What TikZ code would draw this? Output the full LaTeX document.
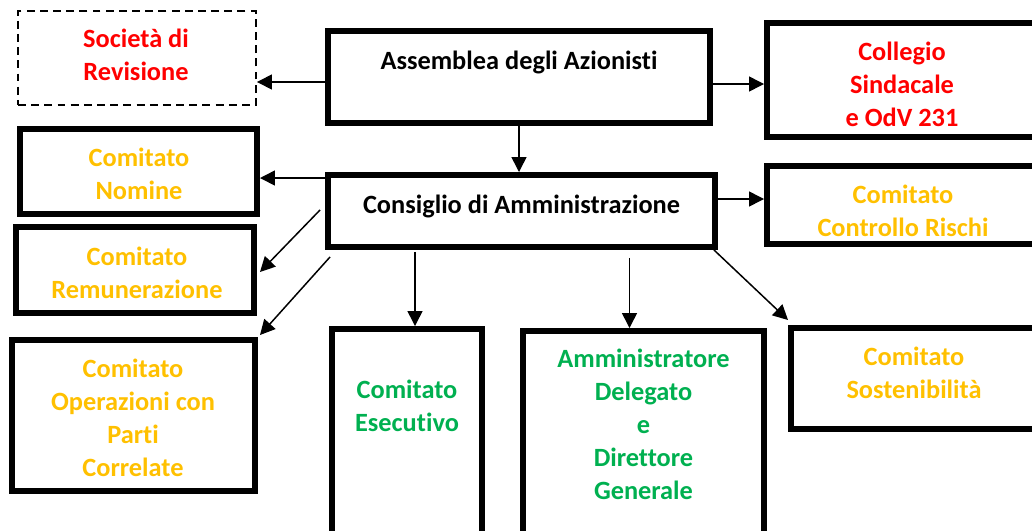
\documentclass[tikz,border=0pt]{standalone}
\usepackage{fontspec}
\setmainfont{Carlito}[Ligatures=NoCommon]
\usetikzlibrary{calc,arrows.meta}
\definecolor{rosso}{RGB}{255,0,0}
\definecolor{oro}{RGB}{255,192,0}
\definecolor{verde}{RGB}{0,176,80}

\begin{document}
\begin{tikzpicture}[x=0.02cm,y=-0.02cm]
	\tikzset{box/.style 2 args={draw=black, line width=3.4pt, minimum width=#1*0.02cm, minimum height=#2*0.02cm, inner sep=0pt}};
	\tikzset{lbl/.style={align=center, inner sep=0pt, font=\fontsize{15}{18.8}\selectfont\bfseries}};
	\tikzset{arr/.style={line width=0.85pt, -{Triangle[length=8.5pt,width=8.5pt]}}};
	
	\clip (0,0) rectangle (1032,531);
	
	% riquadri
	\node[box={238}{94}, dashed, dash pattern=on 4.5pt off 3pt, line width=1.1pt] (soc) at (137,58) {};
	\node[box={382}{92}] (ass) at (519,77) {};
	\node[box={270}{114}] (col) at (902,80) {};
	\node[box={237}{85}] (nom) at (138.5,171.5) {};
	\node[box={387}{72}] (cda) at (521.5,211) {};
	\node[box={270}{78}] (ctr) at (902,205) {};
	\node[box={238}{86}] (rem) at (135,270) {};
	\node[box={243}{151}] (opc) at (133.5,415.5) {};
	\node[box={150}{228}] (ese) at (407,443) {};
	\node[box={241}{226}] (adm) at (643.5,444) {};
	\node[box={246}{101}] (sos) at (914,378.5) {};
	
	% testi
	\node[lbl, text=rosso] (socT) at (136,54.5) {Società di\\Revisione};
	\node[lbl] (assT) at (519,62) {Assemblea degli Azionisti};
	\node[lbl, text=rosso] (colT) at (902,84.5) {Collegio\\Sindacale\\e OdV 231};
	\node[lbl, text=oro] (nomT) at (139,173.5) {Comitato\\Nomine};
	\node[lbl] (cdaT) at (521.5,206) {Consiglio di Amministrazione};
	\node[lbl, text=oro] (ctrT) at (903,211) {Comitato\\Controllo Rischi};
	\node[lbl, text=oro] (remT) at (137,273) {Comitato\\Remunerazione};
	\node[lbl, text=oro] (opcT) at (133,418) {Comitato\\Operazioni con\\Parti\\Correlate};
	\node[lbl, text=verde] (eseT) at (407,405.5) {Comitato\\Esecutivo};
	\node[lbl, text=verde] (admT) at (643.5,424.5) {Amministratore\\Delegato\\e\\Direttore\\Generale};
	\node[lbl, text=oro] (sosT) at (914,373) {Comitato\\Sostenibilità};
	
	% assemblea
	\draw[arr] ($(ass.west)+(0,5)$) -- ($(ass.west -| soc.east)+(0,5)$);
	\draw[arr] ($(ass.east)+(0,7)$) -- ($(ass.east -| col.west)+(0,7)$);
	\draw[arr] (ass.south) -- (ass.south |- cda.north);
	
	% consiglio
	\draw[arr] ($(cda.north west)+(0,6)$) -- ($(cda.north west -| nom.east)+(0,6)$);
	\draw[arr] ($(cda.west)+(-5,-1)$) -- ($(rem.east)+(3,2)$);
	\draw[arr] ($(cda.south west)+(5,7)$) -- ($(opc.north east)+(2,-2)$);
	\draw[arr] ($(cda.south -| ese.north)+(8,2)$) -- ($(ese.north)+(8,0)$);
	\draw[arr] ($(cda.south -| adm.north)+(-14,8)$) -- ($(adm.north)+(-14,0)$);
	\draw[arr] ($(cda.south east)+(-4,0)$) -- ($(sos.north west)+(0,-5)$);
	\draw[arr] ($(cda.east)+(0,-12)$) -- ($(cda.east -| ctr.west)+(0,-12)$);
\end{tikzpicture}
\end{document}
